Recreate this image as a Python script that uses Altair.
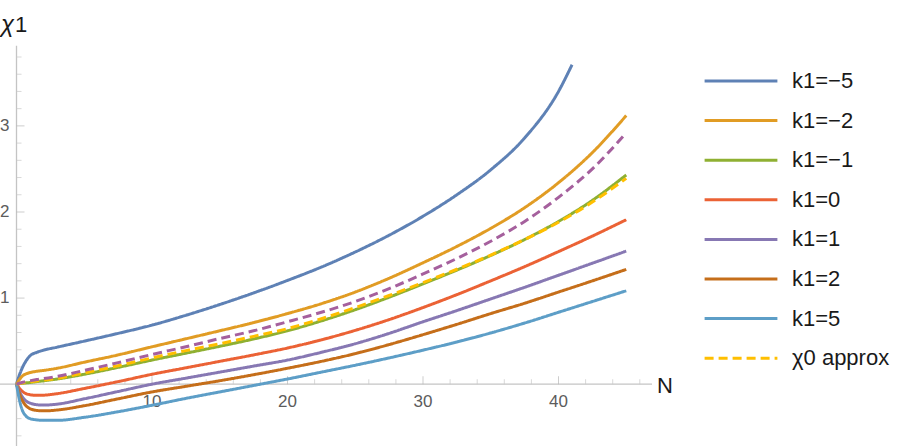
import altair as alt
import pandas as pd

# ---- data -----------------------------------------------------------------
N_GRID = [0, 0.2, 0.4, 0.7, 1, 1.5, 2, 3, 5, 7.5, 10, 12.5, 15, 17.5, 20,
          22.5, 25, 27.5, 30, 32.5, 35, 37.5, 40, 42.5, 45]
N_SHORT = [0, 0.2, 0.4, 0.7, 1, 1.5, 2, 3, 5, 7.5, 10, 12.5, 15, 17.5, 20,
           22.5, 25, 27.5, 30, 32.5, 35, 37.5, 40, 41]

chi_k_m5 = [0, 0.10, 0.18, 0.27, 0.33, 0.37, 0.395, 0.43, 0.50, 0.59, 0.686,
            0.80, 0.925, 1.06, 1.205, 1.36, 1.535, 1.73, 1.95, 2.20, 2.49,
            2.86, 3.40, 3.71]
chi_k_m2 = [0, 0.05, 0.09, 0.12, 0.135, 0.15, 0.16, 0.185, 0.255, 0.34, 0.434,
            0.527, 0.62, 0.715, 0.82, 0.935, 1.07, 1.23, 1.41, 1.60, 1.81,
            2.05, 2.34, 2.69, 3.12]
chi_k_m1 = [0, 0.005, 0.01, 0.015, 0.02, 0.03, 0.04, 0.06, 0.115, 0.195, 0.28,
            0.36, 0.44, 0.525, 0.62, 0.735, 0.865, 1.01, 1.165, 1.325, 1.495,
            1.68, 1.89, 2.135, 2.43]
chi_k_0 = [0, -0.045, -0.08, -0.11, -0.122, -0.13, -0.128, -0.11, -0.05, 0.03,
           0.115, 0.19, 0.265, 0.34, 0.42, 0.515, 0.625, 0.75, 0.89, 1.04,
           1.20, 1.365, 1.54, 1.72, 1.91]
chi_k_1 = [0, -0.08, -0.14, -0.195, -0.22, -0.238, -0.243, -0.232, -0.17,
           -0.085, 0.0, 0.07, 0.14, 0.21, 0.28, 0.37, 0.47, 0.59, 0.725, 0.855,
           0.99, 1.125, 1.265, 1.405, 1.546]
chi_k_2 = [0, -0.10, -0.18, -0.25, -0.285, -0.305, -0.31, -0.30, -0.25, -0.17,
           -0.09, -0.025, 0.04, 0.11, 0.185, 0.265, 0.355, 0.46, 0.575, 0.695,
           0.82, 0.94, 1.07, 1.20, 1.333]
chi_k_5 = [0, -0.17, -0.29, -0.37, -0.40, -0.415, -0.42, -0.42, -0.385, -0.32,
           -0.245, -0.165, -0.09, -0.015, 0.06, 0.14, 0.22, 0.305, 0.395, 0.49,
           0.595, 0.71, 0.835, 0.96, 1.085]
chi0_approx = [0, 0.006, 0.012, 0.02, 0.027, 0.037, 0.047, 0.068, 0.13, 0.215,
               0.305, 0.39, 0.47, 0.555, 0.645, 0.76, 0.89, 1.03, 1.18, 1.335,
               1.50, 1.68, 1.88, 2.115, 2.39]
chi_dashed = [0, 0.01, 0.02, 0.03, 0.04, 0.055, 0.065, 0.09, 0.16, 0.25, 0.345,
              0.435, 0.53, 0.62, 0.725, 0.835, 0.96, 1.11, 1.28, 1.46, 1.66,
              1.89, 2.17, 2.50, 2.92]

SERIES = ["k1=\u22125", "k1=\u22122", "k1=\u22121", "k1=0", "k1=1", "k1=2",
          "k1=5", "\u03c70 approx"]
COLORS = ["#5E81B5", "#E19C24", "#8FB032", "#EB6235", "#8778B3", "#C56E1A",
          "#5D9EC7", "#FFBF00"]
DASHES = [[1, 0]] * 7 + [[9, 5]]

X_MAJOR = [10, 20, 30, 40]
X_MINOR = [2, 4, 6, 8, 12, 14, 16, 18, 22, 24, 26, 28, 32, 34, 36, 38, 42, 44, 46]
Y_MAJOR = [1, 2, 3]
Y_MINOR = [-0.6, -0.4, -0.2, 0.2, 0.4, 0.6, 0.8, 1.2, 1.4, 1.6, 1.8, 2.2, 2.4,
           2.6, 2.8, 3.2, 3.4, 3.6, 3.8]
X_AXIS_SPAN = [-1.218, 46.9]
Y_AXIS_SPAN = [-0.718, 3.93]

# ---- frames ---------------------------------------------------------------
curves = [
    (N_SHORT, chi_k_m5), (N_GRID, chi_k_m2), (N_GRID, chi_k_m1),
    (N_GRID, chi_k_0), (N_GRID, chi_k_1), (N_GRID, chi_k_2),
    (N_GRID, chi_k_5), (N_GRID, chi0_approx),
]
rows = []
for name, (ns, vals) in zip(SERIES, curves):
    rows += [{"N": n, "chi": v, "series": name} for n, v in zip(ns, vals)]
df = pd.DataFrame(rows)
df_dash = pd.DataFrame({"N": N_GRID, "chi": chi_dashed})

FONT = "Liberation Sans"
AXIS_GRAY = "#c4c4c4"

xs = alt.Scale(domain=[-1.218, 65.867], nice=False, zero=False)
ys = alt.Scale(domain=[-0.718, 4.462], nice=False, zero=False)


def X(field):
    return alt.X(field, scale=xs, axis=None)


def Y(field):
    return alt.Y(field, scale=ys, axis=None)


legend = alt.Legend(
    title=None, orient="none", legendX=730, legendY=70, padding=0,
    symbolType="M-5.2,0H5.2", symbolSize=196, symbolStrokeWidth=3,
    labelFont=FONT, labelFontSize=22, labelColor="#1a1a1a",
    labelOffset=40, rowPadding=17.6, labelLimit=300,
)

lines = alt.Chart(df).mark_line(strokeWidth=3, interpolate="monotone").encode(
    x=X("N:Q"),
    y=Y("chi:Q"),
    color=alt.Color("series:N", scale=alt.Scale(domain=SERIES, range=COLORS),
                    legend=legend),
    strokeDash=alt.StrokeDash("series:N",
                              scale=alt.Scale(domain=SERIES, range=DASHES),
                              legend=legend),
)

dashed = alt.Chart(df_dash).mark_line(
    strokeWidth=3, color="#A5609D", strokeDash=[9, 5], interpolate="monotone"
).encode(x=X("N:Q"), y=Y("chi:Q"))

# ---- axes drawn through the data scales -----------------------------------
span_x = pd.DataFrame({"x0": [X_AXIS_SPAN[0]], "x1": [X_AXIS_SPAN[1]], "y": [0]})
span_y = pd.DataFrame({"y0": [Y_AXIS_SPAN[0]], "y1": [Y_AXIS_SPAN[1]], "x": [0]})

x_axis = alt.Chart(span_x).mark_rule(color=AXIS_GRAY, strokeWidth=1.3).encode(
    x=X("x0:Q"), x2="x1:Q", y=Y("y:Q"))
y_axis = alt.Chart(span_y).mark_rule(color=AXIS_GRAY, strokeWidth=1.3).encode(
    y=Y("y0:Q"), y2="y1:Q", x=X("x:Q"))

xt_major = pd.DataFrame({"v": X_MAJOR, "z": 0})
xt_minor = pd.DataFrame({"v": X_MINOR, "z": 0})
yt_major = pd.DataFrame({"v": Y_MAJOR, "z": 0})
yt_minor = pd.DataFrame({"v": Y_MINOR, "z": 0})

x_major = alt.Chart(xt_major).mark_tick(
    orient="vertical", size=8, thickness=1, yOffset=-4, color="#b8b8b8"
).encode(x=X("v:Q"), y=Y("z:Q"))
x_minor = alt.Chart(xt_minor).mark_tick(
    orient="vertical", size=5, thickness=1, yOffset=-2.5, color="#c8c8c8"
).encode(x=X("v:Q"), y=Y("z:Q"))
y_major = alt.Chart(yt_major).mark_tick(
    orient="horizontal", size=8, thickness=1, xOffset=4, color="#b8b8b8"
).encode(y=Y("v:Q"), x=X("z:Q"))
y_minor = alt.Chart(yt_minor).mark_tick(
    orient="horizontal", size=5, thickness=1, xOffset=2.5, color="#c8c8c8"
).encode(y=Y("v:Q"), x=X("z:Q"))

x_labels = alt.Chart(xt_major).mark_text(
    font=FONT, fontSize=17, color="#5c5c5c", dy=18, align="center",
    baseline="middle"
).encode(x=X("v:Q"), y=Y("z:Q"), text="v:Q")
y_labels = alt.Chart(yt_major).mark_text(
    font=FONT, fontSize=17, color="#5c5c5c", dx=-7, align="right",
    baseline="middle"
).encode(y=Y("v:Q"), x=X("z:Q"), text="v:Q")

title_chi = alt.Chart(pd.DataFrame({"t": ["\u03c7"]})).mark_text(
    font=FONT, fontSize=24, fontStyle="italic", color="#1a1a1a",
    align="left", baseline="alphabetic"
).encode(x=alt.value(1), y=alt.value(32), text="t:N")
title_one = alt.Chart(pd.DataFrame({"t": ["1"]})).mark_text(
    font=FONT, fontSize=22, color="#1a1a1a", align="left",
    baseline="alphabetic"
).encode(x=alt.value(15), y=alt.value(32), text="t:N")
title_n = alt.Chart(pd.DataFrame({"t": ["N"]})).mark_text(
    font=FONT, fontSize=22, color="#1a1a1a", align="left",
    baseline="alphabetic"
).encode(x=alt.value(657), y=alt.value(393), text="t:N")

chart = alt.layer(
    x_axis, y_axis, x_minor, x_major, y_minor, y_major, x_labels, y_labels,
    lines, dashed, title_chi, title_one, title_n,
).properties(
    width=909, height=446, padding=0, autosize=alt.AutoSizeParams(type="none"),
    background="white",
).configure_view(stroke=None)

chart.save("out.html", embed_options={"renderer": "svg", "actions": False})
